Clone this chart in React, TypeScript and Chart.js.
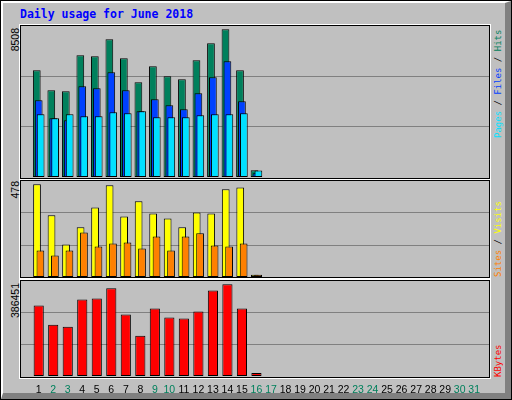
import React, { useEffect, useRef } from 'react'
import { Chart, registerables } from 'chart.js'

Chart.register(...registerables)

// June 2018 -- the log only covers the first 16 days
const days = [1, 2, 3, 4, 5, 6, 7, 8, 9, 10, 11, 12, 13, 14, 15, 16, 17, 18, 19, 20, 21, 22, 23, 24, 25, 26, 27, 28, 29, 30, 31]

const hits = [6146, 4994, 4937, 7010, 6953, 7932, 6837, 5455, 6377, 5801, 5628, 6722, 7701, 8508, 6146, 386]
const files = [4418, 3381, 3266, 5225, 5109, 6031, 4994, 3784, 4476, 4130, 3900, 4821, 5743, 6665, 4361, 213]
const pages = [3612, 3381, 3612, 3497, 3497, 3727, 3669, 3784, 3439, 3439, 3439, 3554, 3612, 3612, 3669, 380]
const visits = [478, 318, 168, 256, 359, 473, 312, 390, 328, 302, 256, 333, 328, 452, 462, 12]
const sites = [137, 111, 137, 230, 157, 173, 178, 147, 209, 137, 209, 225, 162, 157, 173, 12]
const kbytes = [297270, 216582, 208089, 322750, 326997, 369464, 259050, 169869, 284530, 246309, 242062, 271790, 360970, 386451, 284530, 12740]

const GREY = '#C0C0C0'
const DARK = '#808080'
const HIT_COLOR = '#00805C'
const FILE_COLOR = '#0040FF'
const PAGE_COLOR = '#00E0FF'
const VISIT_COLOR = '#FFFF00'
const SITE_COLOR = '#FF8000'
const KBYTE_COLOR = '#FF0000'

const isWeekend = (d: number) => {
  const w = new Date(2018, 5, d).getDay()
  return w === 0 || w === 6
}

// leave ~3px above the tallest bar
const axisMax = (values: number[], h: number) => (Math.max(...values) * h) / (h - 3.3)

// x is in day units: 468px wide panel, 15px per day
const X_MIN = 0.3
const X_MAX = 31.5

function panelOptions(yMax: number, showDays: boolean, catPct: number, barPct: number): any {
  return {
    responsive: false,
    animation: false,
    events: [],
    layout: { padding: 0 },
    plugins: { legend: { display: false }, tooltip: { enabled: false } },
    datasets: {
      bar: {
        borderWidth: 1,
        borderColor: '#000000',
        borderSkipped: false,
        // negative percentages flip the group: first dataset ends up rightmost and painted on top
        categoryPercentage: catPct,
        barPercentage: barPct,
      },
    },
    scales: {
      x: {
        type: 'linear',
        min: X_MIN,
        max: X_MAX,
        display: showDays,
        grid: { display: false, drawTicks: false },
        border: { display: false },
        afterBuildTicks: (scale: any) => {
          scale.ticks = days.map((d) => ({ value: d }))
        },
        ticks: {
          autoSkip: false,
          maxRotation: 0,
          padding: 8,
          font: { family: 'Liberation Sans', size: 10.5, lineHeight: '12px' },
          color: (ctx: any) => (isWeekend(ctx.tick.value) ? HIT_COLOR : '#000000'),
          callback: (v: any) => String(v),
        },
      },
      y: {
        min: 0,
        max: yMax,
        afterBuildTicks: (scale: any) => {
          scale.ticks = [{ value: yMax / 3 }, { value: (2 * yMax) / 3 }]
        },
        grid: { color: DARK, lineWidth: 1, drawTicks: false },
        border: { display: false },
        ticks: { display: false },
      },
    },
  }
}

const topConfig: any = {
  type: 'bar',
  data: {
    labels: days,
    datasets: [
      { label: 'Pages', data: pages, backgroundColor: PAGE_COLOR },
      { label: 'Files', data: files, backgroundColor: FILE_COLOR },
      { label: 'Hits', data: hits, backgroundColor: HIT_COLOR },
    ],
  },
  options: panelOptions(axisMax(hits, 151), false, -0.4, -4),
}

const midConfig: any = {
  type: 'bar',
  data: {
    labels: days,
    datasets: [
      { label: 'Sites', data: sites, backgroundColor: SITE_COLOR },
      { label: 'Visits', data: visits, backgroundColor: VISIT_COLOR },
    ],
  },
  options: panelOptions(axisMax(visits, 96), false, -7 / 15, -8 / 3.5),
}

const lowConfig: any = {
  type: 'bar',
  data: {
    labels: days,
    datasets: [{ label: 'KBytes', data: kbytes, backgroundColor: KBYTE_COLOR }],
  },
  options: panelOptions(axisMax(kbytes, 94), true, 1, 0.7),
}

interface ChartCanvasProps {
  left: number
  top: number
  width: number
  height: number
  config: any
}

const ChartCanvas: React.FC<ChartCanvasProps> = ({ left, top, width, height, config }) => {
  const canvasRef = useRef<HTMLCanvasElement>(null)

  useEffect(() => {
    if (!canvasRef.current) return
    const chart = new Chart(canvasRef.current, config)
    return () => chart.destroy()
  }, [config])

  return (
    <canvas
      ref={canvasRef}
      width={width}
      height={height}
      style={{ position: 'absolute', left, top, width, height }}
    />
  )
}

// text rotated to read bottom-to-top; `from` = where it starts, `to` = where it ends
const Up: React.FC<{ x: number; from?: number; to?: number; font: string; children: React.ReactNode }> = ({ x, from, to, font, children }) => {
  const W = 160
  const alignEnd = to !== undefined
  return (
    <div
      style={{
        position: 'absolute',
        left: x,
        top: alignEnd ? (to as number) + W : from,
        width: W,
        textAlign: alignEnd ? 'right' : 'left',
        transform: 'rotate(-90deg)',
        transformOrigin: '0 0',
        whiteSpace: 'pre',
        font,
      }}
    >
      {children}
    </div>
  )
}

const Panel: React.FC<{ top: number; height: number }> = ({ top, height }) => (
  <div
    style={{
      position: 'absolute',
      left: 20,
      top,
      width: 470,
      height,
      boxSizing: 'border-box',
      border: '1px solid #000',
      outline: '1px solid #fff',
    }}
  />
)

const LABEL_FONT = '10.5px/12px "Liberation Sans"'
const LEGEND_FONT = '9px/10px "DejaVu Sans Mono"'

export default function App() {
  return (
    <div style={{ position: 'absolute', left: 0, top: 0, width: 512, height: 400, background: GREY, overflow: 'hidden' }}>
      <div style={{ position: 'absolute', inset: 0, border: '1px solid #000' }} />
      <div
        style={{
          position: 'absolute',
          left: 1,
          top: 1,
          right: 1,
          bottom: 1,
          borderTop: '2px solid #fff',
          borderLeft: '2px solid #fff',
          borderRight: `6px solid ${DARK}`,
          borderBottom: `6px solid ${DARK}`,
        }}
      />
      <div
        style={{
          position: 'absolute',
          left: 20,
          top: 8,
          font: 'bold 11.5px/13px "DejaVu Sans Mono"',
          color: '#0000FF',
          whiteSpace: 'pre',
        }}
      >
        Daily usage for June 2018
      </div>

      <Panel top={25} height={154} />
      <Panel top={180} height={98} />
      <Panel top={280} height={98} />

      <Up x={9} to={28} font={LABEL_FONT}>{Math.max(...hits)}</Up>
      <Up x={9} to={181} font={LABEL_FONT}>{Math.max(...visits)}</Up>
      <Up x={9} to={283} font={LABEL_FONT}>{Math.max(...kbytes)}</Up>

      <Up x={493} from={138} font={LEGEND_FONT}>
        <span style={{ color: PAGE_COLOR }}>Pages</span>
        <span style={{ color: '#000' }}> / </span>
        <span style={{ color: FILE_COLOR }}>Files</span>
        <span style={{ color: '#000' }}> / </span>
        <span style={{ color: HIT_COLOR }}>Hits</span>
      </Up>
      <Up x={493} from={277} font={LEGEND_FONT}>
        <span style={{ color: SITE_COLOR }}>Sites</span>
        <span style={{ color: '#000' }}> / </span>
        <span style={{ color: VISIT_COLOR }}>Visits</span>
      </Up>
      <Up x={493} from={377} font={LEGEND_FONT}>
        <span style={{ color: KBYTE_COLOR }}>KBytes</span>
      </Up>

      <ChartCanvas left={21} top={26} width={468} height={151} config={topConfig} />
      <ChartCanvas left={21} top={181} width={468} height={96} config={midConfig} />
      <ChartCanvas left={21} top={281} width={468} height={123} config={lowConfig} />
    </div>
  )
}
